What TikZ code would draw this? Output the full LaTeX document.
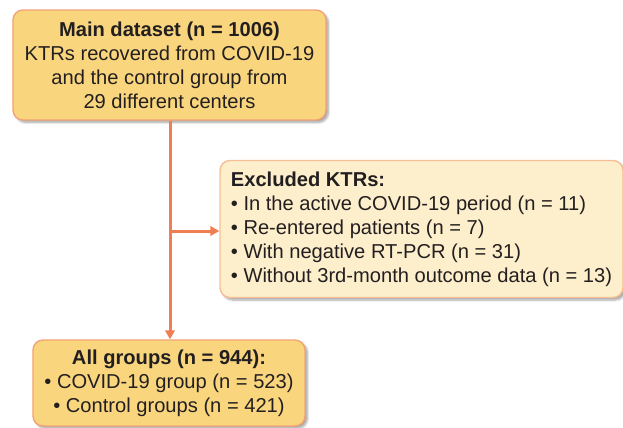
\documentclass[tikz,border=0pt]{standalone}
\usepackage{fontspec}
\setmainfont{Liberation Sans}
\usetikzlibrary{arrows.meta,shadows.blur,calc}
\definecolor{topfill}{HTML}{F9D67E}
\definecolor{topborder}{HTML}{F3A275}
\definecolor{exfill}{HTML}{FDEFCC}
\definecolor{exborder}{HTML}{F7BE95}
\definecolor{flowline}{HTML}{EF7F52}
\definecolor{ink}{HTML}{231F20}
\begin{document}
\begin{tikzpicture}[x=1bp,y=-1bp,
  box/.style={draw=topborder, fill=topfill, line width=1.4bp, rounded corners=10bp,
    font=\fontsize{20.2}{24}\selectfont, text=ink, inner sep=0pt, align=center,
    blur shadow={shadow xshift=2.5bp, shadow yshift=-2.5bp, shadow blur steps=6, shadow opacity=35}},
  exbox/.style={box, draw=exborder, fill=exfill, align=left},
  flow/.style={draw=flowline, line width=3bp, -{Triangle[length=9bp,width=9.5bp]}}]
\useasboundingbox (0,0) rectangle (623,427);
\node[box, minimum width=313bp, minimum height=110bp] (main) at (169.5,65)
  {\textbf{Main dataset (n = 1006)}\\KTRs recovered from COVID-19\\and the control group from\\29 different centers};
\node[exbox, minimum width=403bp, minimum height=137bp] (excl) at (421.5,229)
  {\textbf{Excluded KTRs:}\\• In the active COVID-19 period (n = 11)\\• Re-entered patients (n = 7)\\• With negative RT-PCR (n = 31)\\• Without 3rd-month outcome data (n = 13)};
\node[box, minimum width=272bp, minimum height=86bp] (all) at (169,383)
  {\textbf{All groups (n = 944):}\\• COVID-19 group (n = 523)\\• Control groups (n = 421)};
\coordinate (split) at (170,231);
\draw[flow] (main.south -| split) -- (all.north -| split);
\draw[flow] (split) -- (split -| excl.west);
\end{tikzpicture}
\end{document}
